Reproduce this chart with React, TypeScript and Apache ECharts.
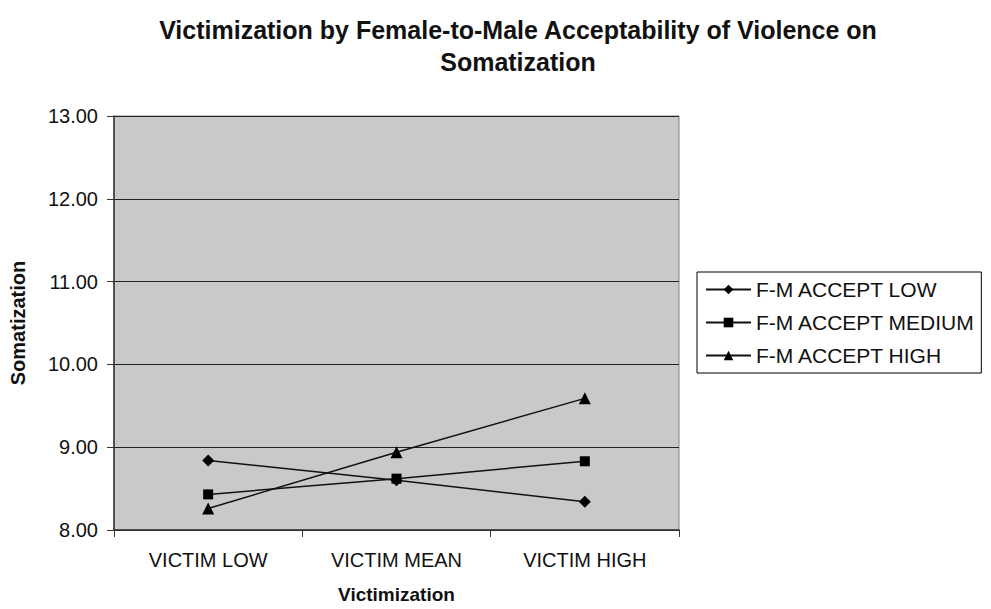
import React, { useEffect, useRef } from "react";
import * as echarts from "echarts";

const categories = ["VICTIM LOW", "VICTIM MEAN", "VICTIM HIGH"];
const seriesNames = ["F-M ACCEPT LOW", "F-M ACCEPT MEDIUM", "F-M ACCEPT HIGH"];
const lowValues = [8.84, 8.6, 8.34];
const mediumValues = [8.43, 8.62, 8.83];
const highValues = [8.26, 8.94, 9.59];
const symbols = ["diamond", "rect", "triangle"];
const symbolSizes = [12, 10, 12];

export default function App() {
  const ref = useRef<HTMLDivElement>(null);
  useEffect(() => {
    if (!ref.current) return;
    const chart = echarts.init(ref.current, undefined, { renderer: "svg" });
    const font = "'Liberation Sans', Arial, sans-serif";
    const data = [lowValues, mediumValues, highValues];
    chart.setOption({
      animation: false,
      backgroundColor: "#ffffff",
      textStyle: { fontFamily: font },
      title: {
        text: "Victimization by Female-to-Male Acceptability of Violence on\nSomatization",
        left: 513,
        top: 9,
        textAlign: "center",
        textStyle: { fontFamily: font, fontSize: 25, fontWeight: "bold", color: "#111", lineHeight: 32 },
      },
      grid: {
        left: 114,
        top: 116,
        right: 312,
        bottom: 79,
        outerBoundsMode: "none",
        containLabel: false,
        show: true,
        backgroundColor: "#c9c9cb",
        borderColor: "#808080",
        borderWidth: 1,
      },
      legend: {
        orient: "vertical",
        left: 697,
        top: 272,
        data: seriesNames,
        borderColor: "#000",
        borderWidth: 1,
        padding: [7, 6, 7, 8],
        itemGap: 12,
        itemWidth: 45,
        itemHeight: 12,
        textStyle: { fontFamily: font, fontSize: 21, color: "#111" },
      },
      xAxis: {
        type: "category",
        data: categories,
        boundaryGap: true,
        name: "Victimization",
        nameLocation: "middle",
        nameGap: 55,
        nameTextStyle: { fontFamily: font, fontSize: 19, fontWeight: "bold", color: "#111" },
        axisLine: { lineStyle: { color: "#333", width: 1.5 } },
        axisTick: { show: true, length: 7, lineStyle: { color: "#333" } },
        axisLabel: { fontFamily: font, fontSize: 20, color: "#111", margin: 20 },
      },
      yAxis: {
        type: "value",
        min: 8,
        max: 13,
        interval: 1,
        name: "Somatization",
        nameLocation: "middle",
        nameGap: 86,
        nameTextStyle: { fontFamily: font, fontSize: 20, fontWeight: "bold", color: "#111" },
        axisLine: { show: true, lineStyle: { color: "#333", width: 1.5 } },
        axisTick: { show: true, length: 7, lineStyle: { color: "#333" } },
        axisLabel: {
          fontFamily: font,
          fontSize: 20,
          color: "#111",
          margin: 16,
          formatter: (v: number) => v.toFixed(2),
        },
        splitLine: { show: true, lineStyle: { color: "#222", width: 1 } },
      },
      series: seriesNames.map((name, i) => ({
        name,
        type: "line",
        data: data[i],
        symbol: symbols[i],
        symbolSize: symbolSizes[i],
        itemStyle: { color: "#000" },
        lineStyle: { color: "#111", width: 1.5 },
      })),
    });
    return () => chart.dispose();
  }, []);
  return (
    <div
      ref={ref}
      style={{ position: "absolute", left: 0, top: 0, width: 991, height: 609 }}
    />
  );
}
